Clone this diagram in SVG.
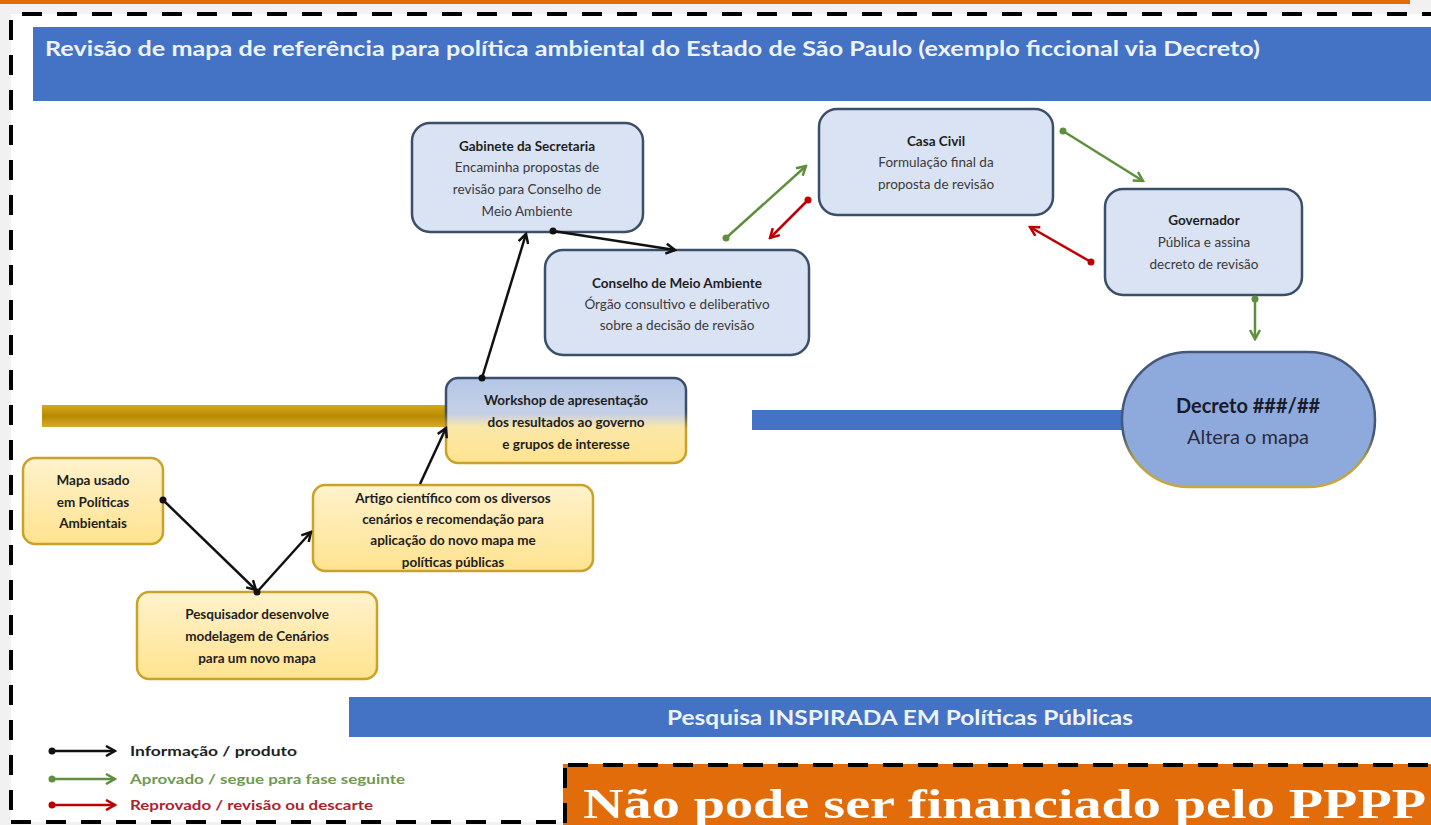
<svg xmlns="http://www.w3.org/2000/svg" width="1431" height="825" viewBox="0 0 1431 825">
<defs>
<style>
.t{font-family:Lato,"Liberation Sans",sans-serif;text-anchor:middle;font-size:13.5px;fill:#3a3a3a}
.b{font-weight:bold;fill:#1e1e1e}
.big{font-size:20px}
.blue{fill:#dae3f3;stroke:#3b4f6b;stroke-width:2.5}
.yel{fill:url(#gy);stroke:#c9a227;stroke-width:2.5}
.ck{stroke:#111;stroke-width:2.5;fill:none}
.cg{stroke:#5f8f3e;stroke-width:2.5;fill:none}
.cr{stroke:#c00000;stroke-width:2.5;fill:none}
.frame{stroke:#000;stroke-width:4;stroke-dasharray:20 15;fill:none}
.leg{font-family:Lato,"Liberation Sans",sans-serif;font-size:13.5px;font-weight:bold}
</style>
<linearGradient id="gy" x1="0" y1="0" x2="0" y2="1"><stop offset="0" stop-color="#fff2cc"/><stop offset="1" stop-color="#ffe38f"/></linearGradient>
<linearGradient id="gw" x1="0" y1="0" x2="0" y2="1"><stop offset="0" stop-color="#b4c7e7"/><stop offset="0.42" stop-color="#c5d0e6"/><stop offset="0.58" stop-color="#fbe7a8"/><stop offset="1" stop-color="#ffe38f"/></linearGradient>
<linearGradient id="sw" x1="0" y1="0" x2="0" y2="1"><stop offset="0" stop-color="#3b4f6b"/><stop offset="0.4" stop-color="#3b4f6b"/><stop offset="0.6" stop-color="#c9a227"/><stop offset="1" stop-color="#c9a227"/></linearGradient>
<linearGradient id="sd" x1="0" y1="0" x2="0" y2="1"><stop offset="0" stop-color="#46577a"/><stop offset="0.62" stop-color="#46577a"/><stop offset="0.8" stop-color="#b9a040"/><stop offset="1" stop-color="#c9a83a"/></linearGradient>
<linearGradient id="gold" x1="0" y1="0" x2="0" y2="1"><stop offset="0" stop-color="#d4a91a"/><stop offset="0.5" stop-color="#b88a00"/><stop offset="1" stop-color="#d4ab2a"/></linearGradient>
<marker id="ak" viewBox="0 0 12 12" refX="10" refY="6" markerWidth="12" markerHeight="12" markerUnits="userSpaceOnUse" orient="auto"><path d="M1,1 L10,6 L1,11" fill="none" stroke="#111" stroke-width="2.5"/></marker>
<marker id="ag" viewBox="0 0 12 12" refX="10" refY="6" markerWidth="12" markerHeight="12" markerUnits="userSpaceOnUse" orient="auto"><path d="M1,1 L10,6 L1,11" fill="none" stroke="#5f8f3e" stroke-width="2.5"/></marker>
<marker id="ar" viewBox="0 0 12 12" refX="10" refY="6" markerWidth="12" markerHeight="12" markerUnits="userSpaceOnUse" orient="auto"><path d="M1,1 L10,6 L1,11" fill="none" stroke="#c00000" stroke-width="2.5"/></marker>
<marker id="dk" viewBox="0 0 8 8" refX="4" refY="4" markerWidth="8" markerHeight="8" markerUnits="userSpaceOnUse"><circle cx="4" cy="4" r="3.5" fill="#111"/></marker>
<marker id="dg" viewBox="0 0 8 8" refX="4" refY="4" markerWidth="8" markerHeight="8" markerUnits="userSpaceOnUse"><circle cx="4" cy="4" r="3.5" fill="#5f8f3e"/></marker>
<marker id="dr" viewBox="0 0 8 8" refX="4" refY="4" markerWidth="8" markerHeight="8" markerUnits="userSpaceOnUse"><circle cx="4" cy="4" r="3.5" fill="#c00000"/></marker>
</defs>

<rect x="0" y="0" width="1431" height="825" fill="#f1f1f1"/>
<rect x="0" y="0" width="1410" height="4" fill="#e36c0a"/>
<rect x="11" y="14" width="1420" height="808" fill="#ffffff"/>
<path class="frame" d="M22,14 H1431 M11,20 V822 M11,822 H562"/>

<g id="title">
<rect x="33" y="27" width="1398" height="74" fill="#4472c4"/>
<text x="45" y="56" font-family="Lato,'Liberation Sans',sans-serif" font-size="20" font-weight="bold" fill="#eef2fa" textLength="1215" lengthAdjust="spacingAndGlyphs">Revisão de mapa de referência para política ambiental do Estado de São Paulo (exemplo ficcional via Decreto)</text>
</g>

<rect x="42" y="405" width="405" height="22" fill="url(#gold)"/>
<rect x="752" y="410" width="373" height="20" fill="#4472c4"/>

<g id="gabinete">
<rect class="blue" x="412" y="123" width="231" height="109" rx="18"/>
<text class="t b" x="527" y="151">Gabinete da Secretaria</text>
<text class="t" x="527" y="172">Encaminha propostas de</text>
<text class="t" x="527" y="194">revisão para Conselho de</text>
<text class="t" x="527" y="216">Meio Ambiente</text>
</g>

<g id="conselho">
<rect class="blue" x="545" y="250" width="264" height="105" rx="18"/>
<text class="t b" x="677" y="288">Conselho de Meio Ambiente</text>
<text class="t" x="677" y="309">Órgão consultivo e deliberativo</text>
<text class="t" x="677" y="330">sobre a decisão de revisão</text>
</g>

<g id="casacivil">
<rect class="blue" x="819" y="109" width="234" height="106" rx="18"/>
<text class="t b" x="936" y="146">Casa Civil</text>
<text class="t" x="936" y="167">Formulação final da</text>
<text class="t" x="936" y="189">proposta de revisão</text>
</g>

<g id="governador">
<rect class="blue" x="1105" y="189" width="197" height="106" rx="18"/>
<text class="t b" x="1204" y="225">Governador</text>
<text class="t" x="1204" y="247">Pública e assina</text>
<text class="t" x="1204" y="269">decreto de revisão</text>
</g>

<g id="decreto">
<rect x="1122" y="352" width="253" height="135" rx="67" fill="#8eaadc" stroke="url(#sd)" stroke-width="2.5"/>
<text class="t b big" x="1248" y="413" style="fill:#1a1a2a">Decreto ###/##</text>
<text class="t big" x="1248" y="444" style="fill:#2a2a3a">Altera o mapa</text>
</g>

<g id="workshop">
<rect x="446" y="378" width="240" height="85" rx="12" fill="url(#gw)" stroke="url(#sw)" stroke-width="2.5"/>
<text class="t b" x="566" y="405">Workshop de apresentação</text>
<text class="t b" x="566" y="427">dos resultados ao governo</text>
<text class="t b" x="566" y="449">e grupos de interesse</text>
</g>

<g id="mapa">
<rect class="yel" x="23" y="458" width="140" height="86" rx="12"/>
<text class="t b" x="93" y="485">Mapa usado</text>
<text class="t b" x="93" y="507">em Políticas</text>
<text class="t b" x="93" y="528">Ambientais</text>
</g>

<g id="artigo">
<rect class="yel" x="313" y="485" width="280" height="86" rx="12"/>
<text class="t b" x="453" y="503">Artigo científico com os diversos</text>
<text class="t b" x="453" y="524">cenários e recomendação para</text>
<text class="t b" x="453" y="545">aplicação do novo mapa me</text>
<text class="t b" x="453" y="567">políticas públicas</text>
</g>

<g id="pesquisador">
<rect class="yel" x="137" y="592" width="240" height="87" rx="12"/>
<text class="t b" x="257" y="619">Pesquisador desenvolve</text>
<text class="t b" x="257" y="641">modelagem de Cenários</text>
<text class="t b" x="257" y="663">para um novo mapa</text>
</g>

<g id="connectors">
<line class="ck" x1="163" y1="500" x2="256" y2="590" marker-start="url(#dk)" marker-end="url(#ak)"/>
<line class="ck" x1="257" y1="592" x2="311" y2="532" marker-start="url(#dk)" marker-end="url(#ak)"/>
<line class="ck" x1="420" y1="484" x2="446" y2="428" marker-end="url(#ak)"/>
<line class="ck" x1="482" y1="378" x2="526" y2="234" marker-start="url(#dk)" marker-end="url(#ak)"/>
<line class="ck" x1="553" y1="231" x2="675" y2="250" marker-start="url(#dk)" marker-end="url(#ak)"/>
<line class="cg" x1="726" y1="238" x2="806" y2="166" marker-start="url(#dg)" marker-end="url(#ag)"/>
<line class="cr" x1="808" y1="200" x2="770" y2="238" marker-start="url(#dr)" marker-end="url(#ar)"/>
<line class="cg" x1="1063" y1="131" x2="1143" y2="181" marker-start="url(#dg)" marker-end="url(#ag)"/>
<line class="cr" x1="1091" y1="262" x2="1030" y2="227" marker-start="url(#dr)" marker-end="url(#ar)"/>
<line class="cg" x1="1255" y1="299" x2="1255" y2="339" marker-start="url(#dg)" marker-end="url(#ag)"/>
</g>

<g id="bottombar">
<rect x="349" y="697" width="1082" height="40" fill="#4472c4"/>
<text x="667" y="725" font-family="Lato,'Liberation Sans',sans-serif" font-size="20" font-weight="bold" fill="#eef2fa" textLength="466" lengthAdjust="spacingAndGlyphs">Pesquisa INSPIRADA EM Políticas Públicas</text>
</g>

<g id="legend">
<line class="ck" x1="52" y1="751" x2="115" y2="751" marker-start="url(#dk)" marker-end="url(#ak)"/>
<line class="cg" x1="52" y1="779" x2="115" y2="779" marker-start="url(#dg)" marker-end="url(#ag)"/>
<line class="cr" x1="52" y1="805" x2="115" y2="805" marker-start="url(#dr)" marker-end="url(#ar)"/>
<text class="leg" x="130" y="756" fill="#1e1e1e" textLength="167" lengthAdjust="spacingAndGlyphs">Informação / produto</text>
<text class="leg" x="130" y="784" fill="#6f9a52" textLength="275" lengthAdjust="spacingAndGlyphs">Aprovado / segue para fase seguinte</text>
<text class="leg" x="130" y="810" fill="#b02030" textLength="243" lengthAdjust="spacingAndGlyphs">Reprovado / revisão ou descarte</text>
</g>

<g id="notice">
<rect x="563" y="764" width="868" height="61" fill="#e36c0a"/>
<path class="frame" d="M568,765 H1431 M565,768 V825"/>
<text x="583" y="818" font-family="'Liberation Serif',serif" font-size="42" font-weight="bold" fill="#ffffff" textLength="843" lengthAdjust="spacingAndGlyphs">Não pode ser financiado pelo PPPP</text>
</g>
</svg>
